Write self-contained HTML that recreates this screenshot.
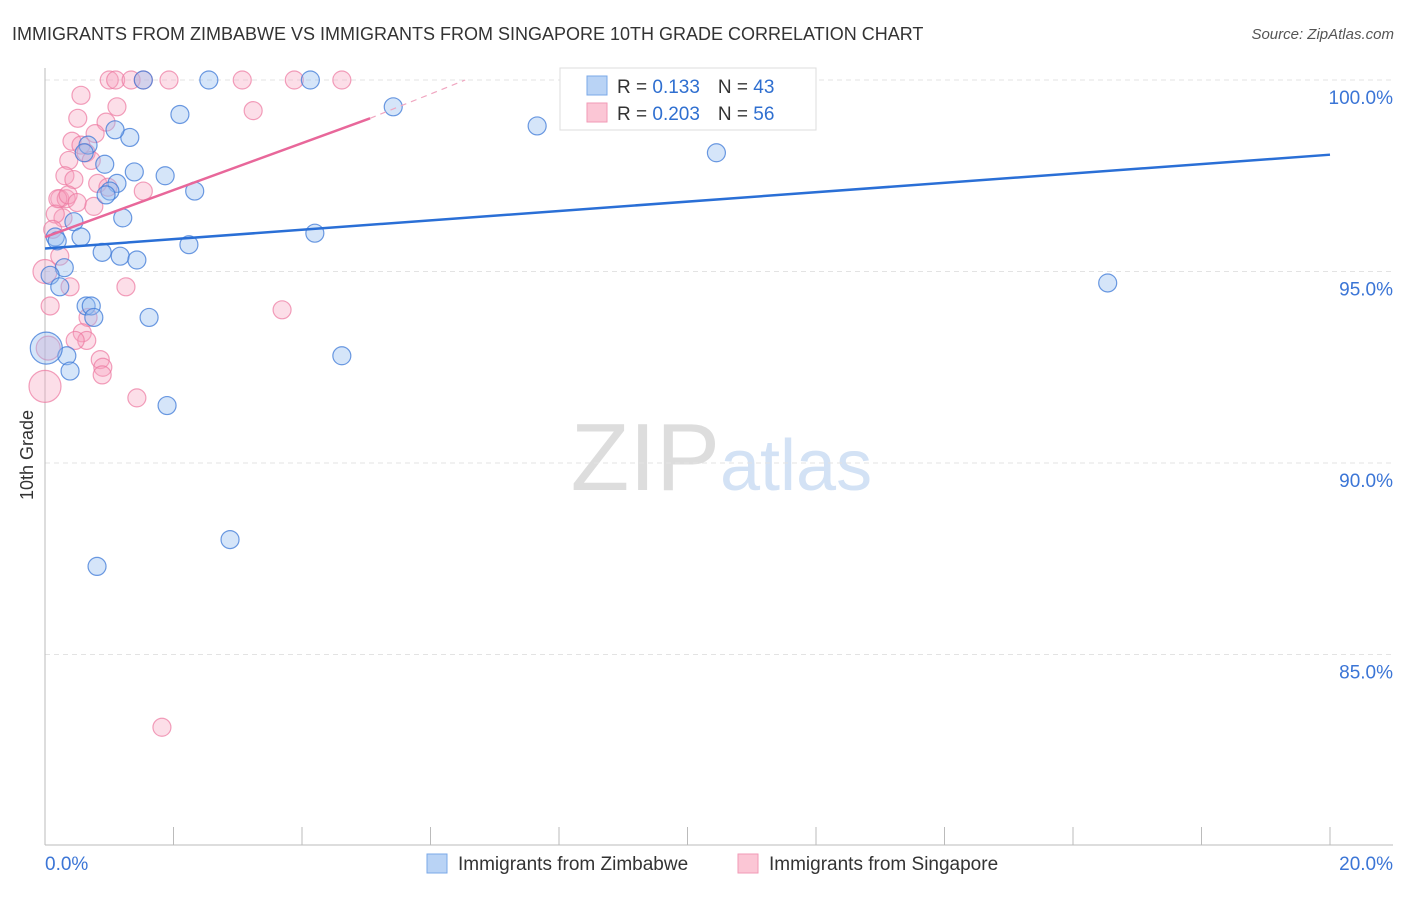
<!DOCTYPE html>
<html><head><meta charset="utf-8"><style>
body{margin:0;background:#fff;font-family:"Liberation Sans",sans-serif}
svg text{font-family:"Liberation Sans",sans-serif}
</style></head><body>
<svg id="c" width="1406" height="892" xmlns="http://www.w3.org/2000/svg">
<text x="12" y="40" font-size="18" fill="#333">IMMIGRANTS FROM ZIMBABWE VS IMMIGRANTS FROM SINGAPORE 10TH GRADE CORRELATION CHART</text>
<text x="1394" y="39" font-size="15" fill="#555" text-anchor="end" font-style="italic">Source: ZipAtlas.com</text>
<text x="33" y="455" font-size="18" fill="#333" text-anchor="middle" transform="rotate(-90 33 455)">10th Grade</text>
<text x="720" y="490" font-size="96" fill="#ddd" text-anchor="end" font-family="Liberation Serif">ZIP</text>
<text x="720" y="490" font-size="72" fill="#d3e2f5">atlas</text>
<g id="grid"></g><g id="pts"></g><g id="lines"></g>
<g>
<rect x="560" y="68" width="256" height="62" fill="#fff" stroke="#ddd"/>
<rect x="587" y="76" width="20" height="19" fill="#b9d3f5" stroke="#7aa8e8"/>
<rect x="587" y="103" width="20" height="19" fill="#fbc6d5" stroke="#f29ab6"/>
<text x="617" y="93" font-size="19" fill="#333">R = <tspan fill="#2f6fd0"> 0.133</tspan><tspan dx="18">N = </tspan><tspan fill="#2f6fd0">43</tspan></text>
<text x="617" y="120" font-size="19" fill="#333">R = <tspan fill="#2f6fd0">0.203</tspan><tspan dx="18">N = </tspan><tspan fill="#2f6fd0">56</tspan></text>
</g>
<g>
<rect x="427" y="854" width="20" height="19" fill="#b9d3f5" stroke="#7aa8e8"/>
<text x="458" y="870" font-size="19" fill="#333">Immigrants from Zimbabwe</text>
<rect x="738" y="854" width="20" height="19" fill="#fbc6d5" stroke="#f29ab6"/>
<text x="769" y="870" font-size="19" fill="#333">Immigrants from Singapore</text>
</g>
</svg>
<script>
const yTicks=[100,95,90,85];
const yTickLabels=["100.0%","95.0%","90.0%","85.0%"];
const xTickLabels=["0.0%","20.0%"];
const zimX=[1.53,2.55,4.13,5.42,7.66,10.45,16.54,2.1,1.32,1.09,0.67,0.93,0.61,1.39,1.87,1.12,1.01,2.33,0.95,1.21,0.45,0.16,0.56,4.2,2.24,0.89,1.17,1.43,0.3,0.08,0.23,0.64,0.72,0.76,1.62,4.62,0.34,0.02,0.39,1.9,2.88,0.81,0.19];
const zimY=[100,100,100,99.3,98.8,98.1,94.7,99.1,98.5,98.7,98.3,97.8,98.1,97.6,97.5,97.3,97.1,97.1,97.0,96.4,96.3,95.9,95.9,96.0,95.7,95.5,95.4,95.3,95.1,94.9,94.6,94.1,94.1,93.8,93.8,92.8,92.8,93.0,92.4,91.5,88.0,87.3,95.8];
const zimR=[9,9,9,9,9,9,9,9,9,9,9,9,9,9,9,9,9,9,9,9,9,9,9,9,9,9,9,9,9,9,9,9,9,9,9,9,9,16,9,9,9,9,9];
const sgX=[1.0,1.1,1.34,1.53,1.93,3.07,3.88,4.62,0.56,3.24,1.12,0.51,0.95,0.78,0.42,0.56,0.64,0.37,0.72,0.31,0.45,0.82,0.98,1.53,0.23,0.33,0.2,0.36,0.76,0.5,0.28,0.16,0.12,0.23,0.0,0.39,1.26,3.69,0.08,0.67,0.58,0.65,0.47,0.86,0.9,0.89,1.43,0.0,1.82,0.05];
const sgY=[100,100,100,100,100,100,100,100,99.6,99.2,99.3,99.0,98.9,98.6,98.4,98.3,98.1,97.9,97.9,97.5,97.4,97.3,97.2,97.1,96.9,96.9,96.9,97.0,96.7,96.8,96.4,96.5,96.1,95.4,95.0,94.6,94.6,94.0,94.1,93.8,93.4,93.2,93.2,92.7,92.5,92.3,91.7,92.0,83.1,93.0];
const sgR=[9,9,9,9,9,9,9,9,9,9,9,9,9,9,9,9,9,9,9,9,9,9,9,9,9,9,9,9,9,9,9,9,9,9,12,9,9,9,9,9,9,9,9,9,9,9,9,16,9,12];
const zimTrend=[[0,95.6],[20,98.05]];
const sgTrend=[[0,95.9],[5.06,99.0],[6.54,100]];
const X=v=>45+v/20*1285, Y=v=>80+(100-v)*38.3;
const NS="http://www.w3.org/2000/svg";
function mk(t,a,p){const e=document.createElementNS(NS,t);for(const k in a)e.setAttribute(k,a[k]);p.appendChild(e);return e;}
const grid=document.getElementById('grid');
yTicks.forEach((t,i)=>{
 const l=mk('line',{x1:45,x2:1393,y1:Y(t),y2:Y(t),stroke:'#e3e3e3','stroke-dasharray':'5,4'},grid);
 
 
 const tx=mk('text',{x:1393,y:Y(t)+24,'font-size':19,fill:'#3b75d6','text-anchor':'end'},grid);
 tx.textContent=yTickLabels[i];
 
 
});
const ax=mk('line',{x1:45,x2:45,y1:68,y2:845,stroke:'#bbb'},grid);


const bx=mk('line',{x1:45,x2:1393,y1:845,y2:845,stroke:'#bbb'},grid);


for(let i=0;i<=10;i++){const t=mk('line',{x1:X(i*2),x2:X(i*2),y1:827,y2:845,stroke:'#bbb'},grid);
 
 }
[[0,'start'],[20,'end']].forEach((d,i)=>{const t=mk('text',{x:i?1393:45,y:870,'font-size':19,fill:'#3b75d6','text-anchor':d[1]},grid);t.textContent=xTickLabels[i];
 
 });
const pts=document.getElementById('pts');
sgX.forEach((v,i)=>{const c=mk('circle',{cx:X(v),cy:Y(sgY[i]),r:sgR[i],fill:'rgba(247,160,188,0.35)',stroke:'rgba(236,120,160,0.7)','stroke-width':1.2},pts);
 
 });
zimX.forEach((v,i)=>{const c=mk('circle',{cx:X(v),cy:Y(zimY[i]),r:zimR[i],fill:'rgba(150,190,240,0.4)',stroke:'rgba(60,120,215,0.75)','stroke-width':1.2},pts);
 
 });
const ln=document.getElementById('lines');
const zl=mk('line',{x1:X(zimTrend[0][0]),y1:Y(zimTrend[0][1]),x2:X(zimTrend[1][0]),y2:Y(zimTrend[1][1]),stroke:'#2a6fd6','stroke-width':2.5},ln);


const sl=mk('line',{x1:X(sgTrend[0][0]),y1:Y(sgTrend[0][1]),x2:X(sgTrend[1][0]),y2:Y(sgTrend[1][1]),stroke:'#e8679a','stroke-width':2.5},ln);


const sd=mk('line',{x1:X(sgTrend[1][0]),y1:Y(sgTrend[1][1]),x2:X(sgTrend[2][0]),y2:Y(sgTrend[2][1]),stroke:'#f0a6c0','stroke-width':1.2,'stroke-dasharray':'6,5'},ln);


</script>
</body></html>
